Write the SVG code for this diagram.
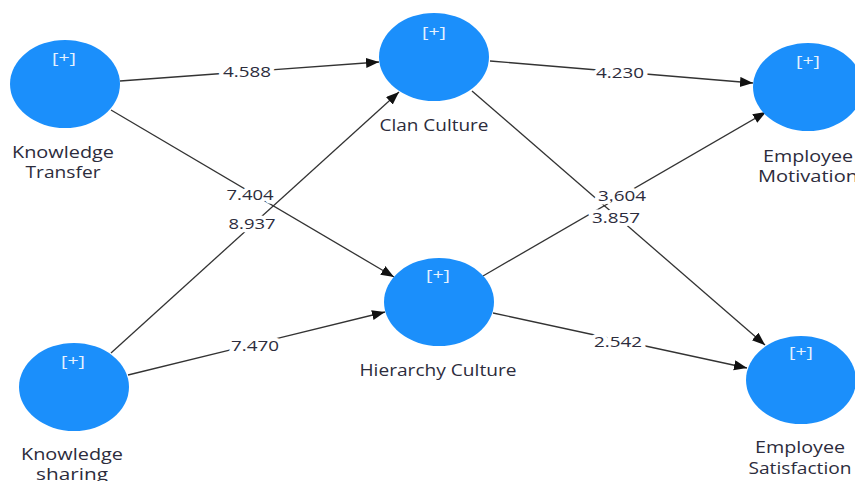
<svg xmlns="http://www.w3.org/2000/svg" width="855" height="481" viewBox="0 0 855 481">
<defs>
<marker id="arr" markerUnits="userSpaceOnUse" markerWidth="14" markerHeight="12" refX="13" refY="5" orient="auto">
<path d="M0,0 L13,5 L0,10 Z" fill="#111"/>
</marker>
<style>
.node ellipse{fill:#1b8ffb;}
.plus{font-family:"Open Sans","DejaVu Sans",sans-serif;font-size:15px;fill:#e6f2ff;text-anchor:middle;}
.lbl{font-family:"Open Sans","DejaVu Sans",sans-serif;font-size:15.5px;fill:#2c2c3c;text-anchor:middle;}
.edge{stroke:#333;stroke-width:1.3;fill:none;marker-end:url(#arr);}
.w{font-family:"Open Sans","DejaVu Sans",sans-serif;font-size:15px;fill:#2c2c3c;text-anchor:middle;stroke:#fff;stroke-width:7;paint-order:stroke;stroke-linejoin:round;}
</style>
</defs>
<rect width="855" height="481" fill="#fff"/>
<g id="connectors">
<line class="edge" x1="120" y1="81" x2="379" y2="62"/>
<line class="edge" x1="111" y1="110" x2="394" y2="277"/>
<line class="edge" x1="111" y1="353" x2="399" y2="92"/>
<line class="edge" x1="128" y1="375" x2="385" y2="312"/>
<line class="edge" x1="490" y1="61" x2="753" y2="83"/>
<line class="edge" x1="472" y1="91" x2="765" y2="345"/>
<line class="edge" x1="483" y1="276" x2="766" y2="112"/>
<line class="edge" x1="493" y1="313" x2="747" y2="368"/>
<text class="w" x="247" y="77" textLength="48" lengthAdjust="spacingAndGlyphs">4.588</text>
<text class="w" x="250" y="200" textLength="47" lengthAdjust="spacingAndGlyphs">7.404</text>
<text class="w" x="252" y="229" textLength="47" lengthAdjust="spacingAndGlyphs">8.937</text>
<text class="w" x="255" y="351" textLength="48" lengthAdjust="spacingAndGlyphs">7.470</text>
<text class="w" x="620" y="78" textLength="48" lengthAdjust="spacingAndGlyphs">4.230</text>
<text class="w" x="622" y="201" textLength="48" lengthAdjust="spacingAndGlyphs">3.604</text>
<text class="w" x="616" y="223" textLength="48" lengthAdjust="spacingAndGlyphs">3.857</text>
<text class="w" x="618" y="347" textLength="48" lengthAdjust="spacingAndGlyphs">2.542</text>
</g>
<g id="knowledge-transfer" class="node">
<ellipse cx="65" cy="84" rx="55" ry="44"/>
<text class="plus" x="64" y="63" textLength="24" lengthAdjust="spacingAndGlyphs">[+]</text>
<text class="lbl" x="63" y="158" textLength="102" lengthAdjust="spacingAndGlyphs">Knowledge</text>
<text class="lbl" x="63" y="178" textLength="75" lengthAdjust="spacingAndGlyphs">Transfer</text>
</g>
<g id="knowledge-sharing" class="node">
<ellipse cx="74" cy="387" rx="55" ry="44"/>
<text class="plus" x="73" y="366" textLength="24" lengthAdjust="spacingAndGlyphs">[+]</text>
<text class="lbl" x="72" y="460" textLength="102" lengthAdjust="spacingAndGlyphs">Knowledge</text>
<text class="lbl" x="72" y="480" textLength="72" lengthAdjust="spacingAndGlyphs">sharing</text>
</g>
<g id="clan-culture" class="node">
<ellipse cx="434" cy="57" rx="55" ry="44"/>
<text class="plus" x="434" y="37" textLength="24" lengthAdjust="spacingAndGlyphs">[+]</text>
<text class="lbl" x="434" y="131" textLength="109" lengthAdjust="spacingAndGlyphs">Clan Culture</text>
</g>
<g id="hierarchy-culture" class="node">
<ellipse cx="439" cy="302" rx="55" ry="44"/>
<text class="plus" x="438" y="280" textLength="24" lengthAdjust="spacingAndGlyphs">[+]</text>
<text class="lbl" x="438" y="376" textLength="157" lengthAdjust="spacingAndGlyphs">Hierarchy Culture</text>
</g>
<g id="employee-motivation" class="node">
<ellipse cx="808" cy="87" rx="55" ry="44"/>
<text class="plus" x="808" y="66" textLength="24" lengthAdjust="spacingAndGlyphs">[+]</text>
<text class="lbl" x="808" y="162" textLength="90" lengthAdjust="spacingAndGlyphs">Employee</text>
<text class="lbl" x="808" y="182" textLength="100" lengthAdjust="spacingAndGlyphs">Motivation</text>
</g>
<g id="employee-satisfaction" class="node">
<ellipse cx="801" cy="380" rx="55" ry="44"/>
<text class="plus" x="801" y="357" textLength="24" lengthAdjust="spacingAndGlyphs">[+]</text>
<text class="lbl" x="800" y="453" textLength="90" lengthAdjust="spacingAndGlyphs">Employee</text>
<text class="lbl" x="800" y="474" textLength="103" lengthAdjust="spacingAndGlyphs">Satisfaction</text>
</g>
</svg>
